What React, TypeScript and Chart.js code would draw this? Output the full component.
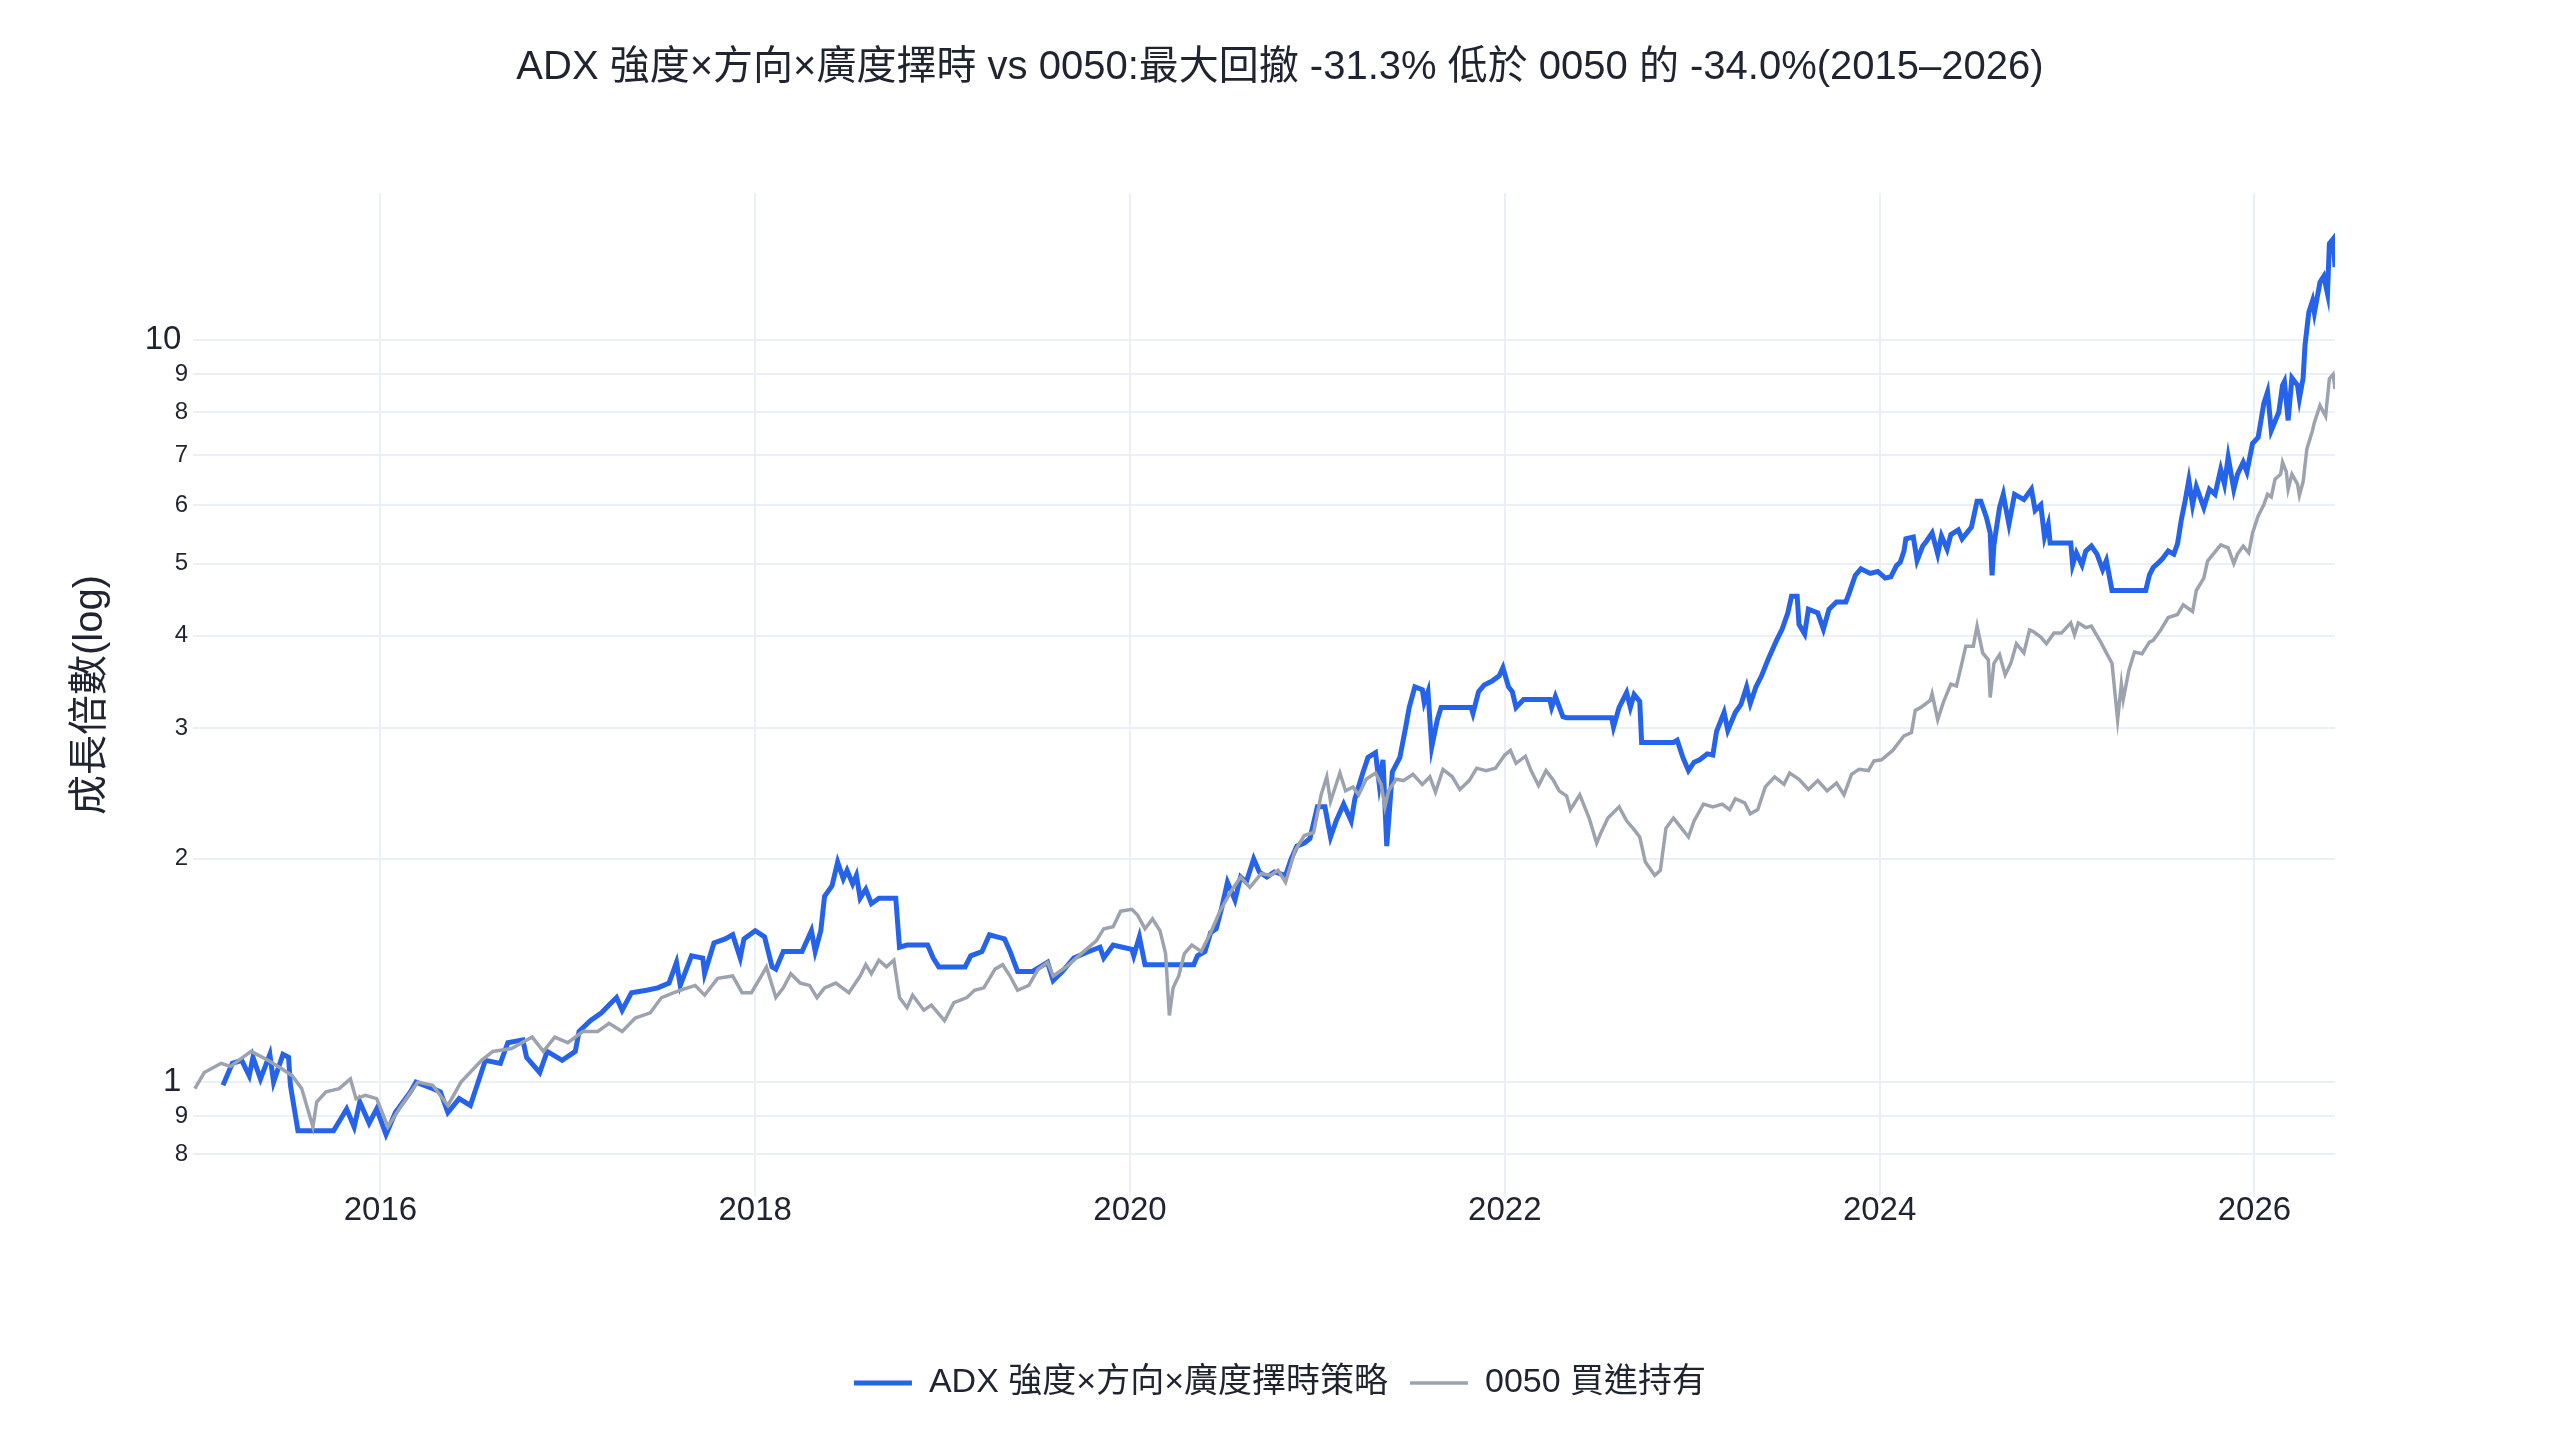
import React, { useEffect, useRef } from 'react';
import { Chart, registerables } from 'chart.js';

Chart.register(...registerables);

const TITLE = 'ADX 強度×方向×廣度擇時 vs 0050:最大回撤 -31.3% 低於 0050 的 -34.0%(2015–2026)';
const Y_TITLE = '成長倍數(log)';
const STRATEGY_LABEL = 'ADX 強度×方向×廣度擇時策略';
const BENCH_LABEL = '0050 買進持有';

const xTickYears = [2016, 2018, 2020, 2022, 2024, 2026];
const yTickValues = [0.8, 0.9, 1, 2, 3, 4, 5, 6, 7, 8, 9, 10];

// strategy: decimal year / growth multiple
const stratX = [
  2015.16, 2015.21, 2015.26, 2015.3, 2015.32, 2015.36, 2015.41, 2015.43, 2015.48, 2015.51, 2015.52, 2015.56,
  2015.75, 2015.82, 2015.86, 2015.89, 2015.94, 2015.98, 2016.03, 2016.08, 2016.16, 2016.19, 2016.28, 2016.32,
  2016.36, 2016.42, 2016.48, 2016.56, 2016.64, 2016.68, 2016.76, 2016.78, 2016.85, 2016.89, 2016.97, 2017.04,
  2017.06, 2017.12, 2017.18, 2017.22, 2017.26, 2017.29, 2017.34, 2017.42, 2017.48, 2017.54, 2017.58, 2017.6,
  2017.66, 2017.72, 2017.73, 2017.78, 2017.84, 2017.88, 2017.92, 2017.94, 2018.0, 2018.05, 2018.09, 2018.11,
  2018.15, 2018.25, 2018.3, 2018.32, 2018.35, 2018.37, 2018.41, 2018.44, 2018.47, 2018.49, 2018.52, 2018.54,
  2018.56, 2018.59, 2018.62, 2018.66, 2018.75, 2018.77, 2018.81, 2018.92, 2018.95, 2018.98, 2019.12, 2019.15,
  2019.21, 2019.25, 2019.29, 2019.33, 2019.36, 2019.4, 2019.48, 2019.56, 2019.59, 2019.64, 2019.7, 2019.78,
  2019.84, 2019.86, 2019.91, 2019.96, 2020.01, 2020.02, 2020.05, 2020.08, 2020.34, 2020.36, 2020.4, 2020.43,
  2020.46, 2020.49, 2020.52, 2020.56, 2020.59, 2020.62, 2020.66, 2020.69, 2020.73, 2020.77, 2020.83, 2020.86,
  2020.89, 2020.93, 2020.96, 2021.0, 2021.04, 2021.07, 2021.1, 2021.14, 2021.18, 2021.2, 2021.24, 2021.27,
  2021.31, 2021.33, 2021.35, 2021.37, 2021.4, 2021.44, 2021.47, 2021.49, 2021.52, 2021.56, 2021.57, 2021.59,
  2021.61, 2021.64, 2021.66, 2021.82, 2021.83, 2021.86, 2021.89, 2021.93, 2021.97, 2021.99, 2022.02, 2022.04,
  2022.06, 2022.1, 2022.24, 2022.25, 2022.27, 2022.31, 2022.33, 2022.57, 2022.58, 2022.61, 2022.65, 2022.67,
  2022.69, 2022.72, 2022.73, 2022.9, 2022.92, 2022.95, 2022.98, 2023.01, 2023.04, 2023.08, 2023.11, 2023.13,
  2023.17, 2023.19, 2023.23, 2023.26, 2023.29, 2023.31, 2023.34, 2023.37, 2023.41, 2023.45, 2023.48, 2023.51,
  2023.53, 2023.56, 2023.57, 2023.6, 2023.62, 2023.67, 2023.7, 2023.73, 2023.77, 2023.82, 2023.84, 2023.87,
  2023.9, 2023.95, 2023.99, 2024.03, 2024.06, 2024.09, 2024.11, 2024.13, 2024.14, 2024.18, 2024.2, 2024.23,
  2024.25, 2024.28, 2024.31, 2024.33, 2024.36, 2024.38, 2024.42, 2024.44, 2024.49, 2024.52, 2024.54, 2024.57,
  2024.59, 2024.6, 2024.61, 2024.64, 2024.66, 2024.67, 2024.69, 2024.72, 2024.77, 2024.81, 2024.83, 2024.86,
  2024.88, 2024.9, 2024.91, 2025.02, 2025.03, 2025.05, 2025.08, 2025.1, 2025.13, 2025.16, 2025.19, 2025.21,
  2025.24, 2025.42, 2025.44, 2025.46, 2025.49, 2025.51, 2025.54, 2025.57, 2025.59, 2025.61, 2025.63, 2025.65,
  2025.67, 2025.69, 2025.73, 2025.76, 2025.79, 2025.82, 2025.84, 2025.86, 2025.89, 2025.91, 2025.94, 2025.96,
  2025.99, 2026.02, 2026.05, 2026.07, 2026.09, 2026.13, 2026.15, 2026.16, 2026.18, 2026.2, 2026.23, 2026.24,
  2026.26, 2026.27, 2026.29, 2026.31, 2026.32, 2026.35, 2026.37, 2026.39, 2026.4, 2026.42, 2026.43,
];
const stratY = [
  0.99, 1.06, 1.07, 1.02, 1.08, 1.01, 1.09, 1.0, 1.09, 1.08, 0.99, 0.86,
  0.86, 0.92, 0.87, 0.94, 0.88, 0.92, 0.85, 0.91, 0.97, 1.0, 0.98, 0.97,
  0.91, 0.95, 0.93, 1.07, 1.06, 1.13, 1.14, 1.08, 1.03, 1.1, 1.07, 1.1,
  1.17, 1.21, 1.24, 1.27, 1.3, 1.25, 1.32, 1.33, 1.34, 1.36, 1.45, 1.35,
  1.48, 1.47, 1.4, 1.54, 1.56, 1.58, 1.47, 1.56, 1.6, 1.57, 1.43, 1.42,
  1.5, 1.5, 1.6, 1.5, 1.6, 1.78, 1.84, 1.98, 1.88, 1.93, 1.85, 1.9,
  1.77, 1.82, 1.74, 1.77, 1.77, 1.52, 1.53, 1.53, 1.47, 1.43, 1.43, 1.48,
  1.5, 1.58, 1.57, 1.56, 1.5, 1.41, 1.41, 1.45, 1.37, 1.41, 1.47, 1.5,
  1.52, 1.47, 1.53, 1.52, 1.51, 1.48, 1.57, 1.44, 1.44, 1.48, 1.5, 1.59,
  1.61, 1.72, 1.86, 1.76, 1.89, 1.86, 2.0, 1.92, 1.89, 1.92, 1.9, 2.0,
  2.08, 2.1, 2.13, 2.35, 2.35, 2.14, 2.25, 2.37, 2.25, 2.41, 2.6, 2.74,
  2.78, 2.52, 2.72, 2.08, 2.62, 2.74, 3.0, 3.2, 3.41, 3.38, 3.25, 3.36,
  2.83, 3.08, 3.2, 3.2, 3.14, 3.36, 3.43, 3.47, 3.53, 3.62, 3.41, 3.36,
  3.2, 3.28, 3.28, 3.2, 3.31, 3.11, 3.1, 3.1, 3.01, 3.2, 3.35, 3.2,
  3.33, 3.26, 2.87, 2.87, 2.89, 2.74, 2.63, 2.7, 2.72, 2.77, 2.76, 2.97,
  3.15, 2.98, 3.15, 3.23, 3.41, 3.24, 3.41, 3.53, 3.74, 3.94, 4.08, 4.29,
  4.52, 4.52, 4.14, 4.02, 4.34, 4.29, 4.08, 4.34, 4.44, 4.44, 4.58, 4.82,
  4.92, 4.85, 4.88, 4.78, 4.8, 4.97, 5.02, 5.2, 5.4, 5.43, 5.05, 5.28,
  5.36, 5.5, 5.15, 5.45, 5.23, 5.47, 5.55, 5.4, 5.6, 6.07, 6.07, 5.77,
  5.5, 4.82, 5.3, 5.95, 6.2, 6.0, 5.65, 6.2, 6.1, 6.3, 5.9, 6.0,
  5.43, 5.65, 5.33, 5.33, 4.98, 5.17, 4.98, 5.2, 5.28, 5.15, 4.91, 5.05,
  4.6, 4.6, 4.83, 4.94, 5.02, 5.08, 5.2, 5.15, 5.32, 5.73, 6.07, 6.48,
  6.0, 6.35, 5.95, 6.3, 6.2, 6.7, 6.4, 6.96, 6.3, 6.6, 6.85, 6.65,
  7.26, 7.4, 8.22, 8.52, 7.56, 8.0, 8.7, 8.8, 7.8, 8.9, 8.7, 8.35,
  8.9, 9.85, 10.9, 11.3, 10.9, 11.98, 12.2, 11.56, 13.5, 13.7, 12.55,
];

// 0050 buy and hold
const benchX = [
  2015.01, 2015.06, 2015.15, 2015.2, 2015.31, 2015.4, 2015.48, 2015.53, 2015.58, 2015.64, 2015.66, 2015.71,
  2015.78, 2015.84, 2015.87, 2015.92, 2015.98, 2016.04, 2016.1, 2016.15, 2016.2, 2016.28, 2016.36, 2016.43,
  2016.54, 2016.6, 2016.7, 2016.81, 2016.87, 2016.93, 2017.0, 2017.08, 2017.16, 2017.22, 2017.29, 2017.36,
  2017.44, 2017.5, 2017.6, 2017.68, 2017.73, 2017.8, 2017.88, 2017.93, 2017.98, 2018.04, 2018.06, 2018.11,
  2018.15, 2018.19, 2018.24, 2018.29, 2018.33, 2018.37, 2018.43, 2018.5, 2018.56, 2018.59, 2018.62, 2018.66,
  2018.7, 2018.74, 2018.77, 2018.81, 2018.84, 2018.9, 2018.94, 2019.01, 2019.06, 2019.13, 2019.17, 2019.22,
  2019.28, 2019.32, 2019.36, 2019.4, 2019.46, 2019.51, 2019.56, 2019.59, 2019.66, 2019.74, 2019.82, 2019.86,
  2019.91, 2019.95, 2020.01, 2020.04, 2020.08, 2020.12, 2020.16, 2020.19, 2020.21, 2020.23, 2020.26, 2020.29,
  2020.33, 2020.38, 2020.43, 2020.48, 2020.54, 2020.59, 2020.64, 2020.7, 2020.75, 2020.79, 2020.83, 2020.88,
  2020.93, 2020.98, 2021.02, 2021.05, 2021.07, 2021.12, 2021.15, 2021.19, 2021.22, 2021.26, 2021.31, 2021.34,
  2021.36, 2021.38, 2021.42, 2021.46, 2021.51, 2021.56, 2021.6, 2021.63, 2021.67, 2021.72, 2021.76, 2021.81,
  2021.85, 2021.9, 2021.95, 2022.0, 2022.03, 2022.06, 2022.11, 2022.14, 2022.18, 2022.22, 2022.26, 2022.29,
  2022.33, 2022.35, 2022.4, 2022.45, 2022.49, 2022.51, 2022.55, 2022.61, 2022.65, 2022.69, 2022.72, 2022.75,
  2022.8, 2022.83, 2022.86, 2022.9, 2022.93, 2022.98, 2023.01, 2023.06, 2023.11, 2023.16, 2023.2, 2023.23,
  2023.28, 2023.31, 2023.35, 2023.39, 2023.44, 2023.49, 2023.52, 2023.57, 2023.62, 2023.67, 2023.72, 2023.77,
  2023.81, 2023.85, 2023.89, 2023.94, 2023.97, 2024.01, 2024.07, 2024.13, 2024.17, 2024.19, 2024.22, 2024.27,
  2024.28, 2024.31, 2024.34, 2024.38, 2024.41, 2024.43, 2024.46, 2024.5, 2024.52, 2024.55, 2024.58, 2024.59,
  2024.61, 2024.64, 2024.67, 2024.7, 2024.73, 2024.77, 2024.8, 2024.82, 2024.86, 2024.89, 2024.93, 2024.97,
  2025.02, 2025.04, 2025.06, 2025.1, 2025.13, 2025.18, 2025.21, 2025.24, 2025.27, 2025.29, 2025.3, 2025.33,
  2025.36, 2025.4, 2025.44, 2025.46, 2025.5, 2025.54, 2025.59, 2025.62, 2025.67, 2025.69, 2025.73, 2025.75,
  2025.78, 2025.82, 2025.86, 2025.89, 2025.91, 2025.94, 2025.97, 2025.99, 2026.02, 2026.05, 2026.07, 2026.09,
  2026.11, 2026.14, 2026.15, 2026.17, 2026.18, 2026.2, 2026.23, 2026.24, 2026.26, 2026.28, 2026.31, 2026.32,
  2026.35, 2026.38, 2026.4, 2026.42, 2026.43,
];
const benchY = [
  0.98, 1.03, 1.06, 1.05, 1.1, 1.07, 1.04, 1.02, 0.98, 0.87, 0.94, 0.97,
  0.98, 1.01, 0.95, 0.96, 0.95, 0.87, 0.92, 0.96, 1.0, 0.99, 0.93, 1.0,
  1.07, 1.1, 1.11, 1.15, 1.1, 1.15, 1.13, 1.17, 1.17, 1.2, 1.17, 1.22,
  1.24, 1.3, 1.33, 1.35, 1.31, 1.38, 1.39, 1.32, 1.32, 1.4, 1.43, 1.3,
  1.34, 1.4, 1.36, 1.35, 1.3, 1.34, 1.36, 1.32, 1.39, 1.44, 1.4, 1.46,
  1.43, 1.46, 1.3, 1.26, 1.31, 1.25, 1.27, 1.21, 1.28, 1.3, 1.33, 1.34,
  1.42, 1.44, 1.39, 1.33, 1.35, 1.42, 1.45, 1.39, 1.43, 1.49, 1.55, 1.61,
  1.62, 1.7, 1.71, 1.68, 1.61, 1.66, 1.6, 1.49, 1.23, 1.34, 1.39, 1.49,
  1.53, 1.5, 1.59, 1.7, 1.81, 1.89, 1.83, 1.91, 1.9, 1.93, 1.86, 2.05,
  2.15, 2.17, 2.44, 2.58, 2.39, 2.61, 2.47, 2.5, 2.44, 2.56, 2.61, 2.52,
  2.35, 2.47, 2.56, 2.55, 2.6, 2.52, 2.58, 2.46, 2.64, 2.58, 2.48, 2.55,
  2.65, 2.63, 2.65, 2.76, 2.8, 2.69, 2.75, 2.63, 2.51, 2.63, 2.55, 2.47,
  2.43, 2.33, 2.44, 2.27, 2.1, 2.16, 2.27, 2.35, 2.25, 2.19, 2.14, 1.98,
  1.9, 1.93, 2.2, 2.27, 2.22, 2.14, 2.25, 2.37, 2.35, 2.37, 2.33, 2.41,
  2.38, 2.3, 2.33, 2.5, 2.58, 2.52, 2.61, 2.56, 2.48, 2.55, 2.47, 2.53,
  2.44, 2.6, 2.64, 2.63, 2.71, 2.72, 2.8, 2.93, 2.96, 3.17, 3.2, 3.27,
  3.34, 3.08, 3.25, 3.44, 3.42, 3.59, 3.87, 3.87, 4.12, 3.79, 3.71, 3.3,
  3.67, 3.77, 3.54, 3.67, 3.9, 3.79, 4.07, 4.05, 3.98, 3.9, 4.03, 4.03,
  4.16, 4.01, 4.16, 4.1, 4.12, 3.92, 3.79, 3.67, 3.08, 3.44, 3.28, 3.59,
  3.8, 3.78, 3.92, 3.94, 4.07, 4.23, 4.27, 4.4, 4.31, 4.6, 4.78, 5.04,
  5.15, 5.3, 5.25, 5.0, 5.15, 5.28, 5.17, 5.5, 5.8, 6.0, 6.2, 6.15,
  6.5, 6.6, 6.85, 6.65, 6.3, 6.6, 6.4, 6.18, 6.45, 7.14, 7.56, 7.75,
  8.17, 7.9, 8.88, 9.0, 8.6,
];

const TEXT = '#1f2430';
const GRID = '#EBF0F8';
const FONT = '"Liberation Sans", "Noto Sans CJK TC", sans-serif';

const isMajor = (v: number) => v === 1 || v === 10;

const App: React.FC = () => {
  const canvasRef = useRef<HTMLCanvasElement>(null);

  useEffect(() => {
    if (!canvasRef.current) return;
    Chart.defaults.font.family = FONT;
    Chart.defaults.color = TEXT;

    const chart = new Chart(canvasRef.current, {
      type: 'line',
      data: {
        datasets: [
          {
            label: STRATEGY_LABEL,
            data: stratX.map((x, i) => ({ x, y: stratY[i] })),
            borderColor: '#2563EB',
            backgroundColor: '#2563EB',
            borderWidth: 5,
            pointRadius: 0,
            tension: 0,
            order: 1,
          },
          {
            label: BENCH_LABEL,
            data: benchX.map((x, i) => ({ x, y: benchY[i] })),
            borderColor: '#9CA3AF',
            backgroundColor: '#9CA3AF',
            borderWidth: 3.5,
            pointRadius: 0,
            tension: 0,
            order: 0,
          },
        ],
      },
      options: {
        animation: false,
        responsive: true,
        maintainAspectRatio: false,
        devicePixelRatio: 1,
        layout: { padding: { left: 0, right: 0, top: 0, bottom: 30 } },
        plugins: {
          title: {
            display: true,
            text: TITLE,
            color: TEXT,
            font: { size: 40, weight: 'normal' },
            padding: { top: 44, bottom: 101 },
          },
          legend: {
            position: 'bottom',
            labels: {
              usePointStyle: true,
              pointStyle: 'line',
              pointStyleWidth: 58,
              color: TEXT,
              font: { size: 34 },
              padding: 22,
              sort: (a: any, b: any) => a.datasetIndex - b.datasetIndex,
            },
          },
          tooltip: { enabled: false },
        },
        scales: {
          x: {
            type: 'linear',
            min: 2015.0,
            max: 2026.43,
            afterBuildTicks: (s: any) => {
              s.ticks = xTickYears.map(v => ({ value: v }));
            },
            afterFit: (s: any) => {
              s.height = 147;
            },
            ticks: {
              callback: (v: any) => String(v),
              font: { size: 33 },
              color: TEXT,
              padding: -6,
              maxRotation: 0,
            },
            grid: { color: GRID, lineWidth: 2, drawTicks: false },
            border: { display: false },
          },
          y: {
            type: 'logarithmic',
            min: 0.729,
            max: 15.8,
            afterBuildTicks: (s: any) => {
              s.ticks = yTickValues.map(v => ({ value: v }));
            },
            afterFit: (s: any) => {
              s.width = 193;
            },
            ticks: {
              callback: (v: any) => {
                const n = Number(v);
                if (isMajor(n)) return String(n) + '\u2009';
                return String(Math.round(n < 1 ? n * 10 : n));
              },
              font: (ctx: any) => {
                const v = ctx.tick ? ctx.tick.value : 0;
                return { size: isMajor(v) ? 33 : 24 };
              },
              color: TEXT,
              padding: 5,
            },
            grid: { color: GRID, lineWidth: 2, drawTicks: false },
            border: { display: false },
            title: {
              display: true,
              text: Y_TITLE,
              color: TEXT,
              font: { size: 40 },
              padding: { top: 67, bottom: 0 },
            },
          },
          // empty right-hand axis that only reserves the right margin
          yRight: {
            type: 'linear',
            position: 'right',
            min: 0,
            max: 1,
            afterFit: (s: any) => {
              s.width = 225;
            },
            ticks: { display: false },
            grid: { display: false, drawTicks: false },
            border: { display: false },
          },
        },
      },
    });

    return () => {
      chart.destroy();
    };
  }, []);

  return (
    <div style={{ position: 'absolute', left: 0, top: 0, width: 2560, height: 1440, background: '#fff' }}>
      <canvas ref={canvasRef}></canvas>
    </div>
  );
};

export default App;
